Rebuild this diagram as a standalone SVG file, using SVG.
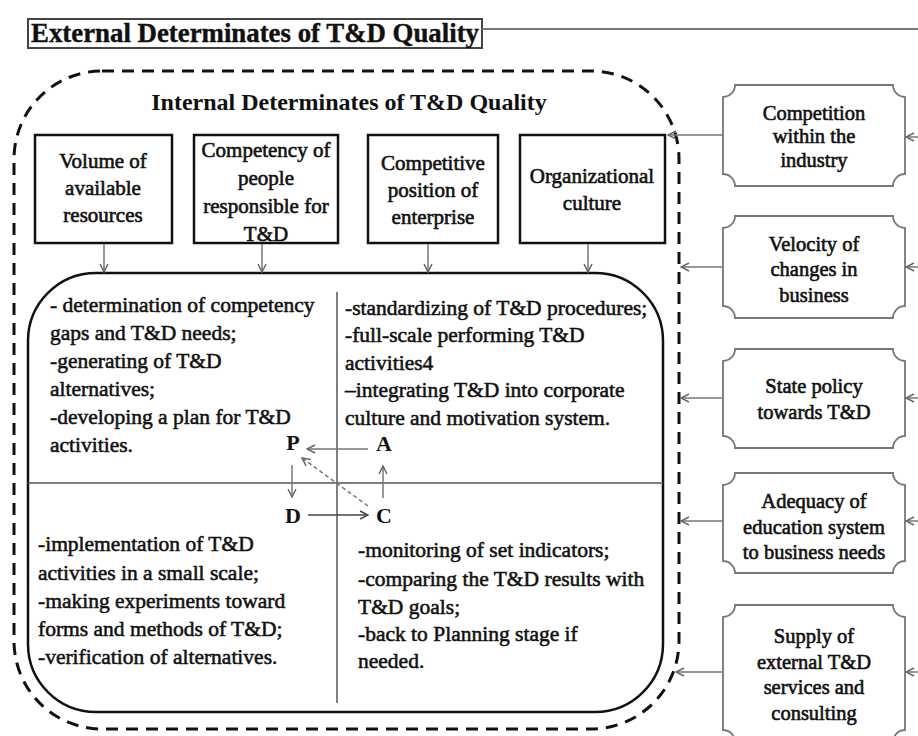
<svg xmlns="http://www.w3.org/2000/svg" width="918" height="736" viewBox="0 0 918 736">
<style>
  text { font-family: "Liberation Serif", "Times New Roman", serif; fill: #111; }
  .t { font-size: 21.5px; stroke: #111; stroke-width: 0.55; }
  .c { text-anchor: middle; }
  .bx { font-size: 21px; stroke: #111; stroke-width: 0.6; text-anchor: middle; }
  .ex { font-size: 20.5px; stroke: #111; stroke-width: 0.6; text-anchor: middle; }
  .h { font-weight: bold; }
  .pdca { font-size: 22px; font-weight: bold; text-anchor: middle; }
  .box { fill: #fff; stroke: #111; stroke-width: 2.5; }
  .plaque { fill: #fff; stroke: #777; stroke-width: 1.8; }
  .conn { fill: none; stroke: #777; stroke-width: 1.5; }
  .div { fill: none; stroke: #555; stroke-width: 1.5; }
</style>
<defs>
  <marker id="ah" viewBox="0 0 10 10" refX="9" refY="5" markerWidth="10" markerHeight="10" markerUnits="userSpaceOnUse" orient="auto">
    <path d="M1,1 L9,5 L1,9" fill="none" stroke="#666" stroke-width="1.5"/>
  </marker>
  <marker id="ahd" viewBox="0 0 10 10" refX="9" refY="5" markerWidth="10" markerHeight="10" markerUnits="userSpaceOnUse" orient="auto">
    <path d="M1,1 L9,5 L1,9" fill="none" stroke="#444" stroke-width="1.5"/>
  </marker>
</defs>
<rect width="918" height="736" fill="#fff"/>

<g id="external-title">
  <rect x="28" y="19" width="454" height="29" fill="#fff" stroke="#444" stroke-width="2"/>
  <text x="31" y="42" class="h" font-size="27" stroke="#111" stroke-width="0.4" textLength="448" lengthAdjust="spacingAndGlyphs">External Determinates of T&amp;D Quality</text>
</g>

<g id="internal-frame">
  <rect x="14" y="71" width="665" height="658" rx="88" ry="88" fill="none" stroke="#111" stroke-width="3" stroke-dasharray="12 8"/>
  <text x="349" y="110" class="h c" font-size="24">Internal Determinates of T&amp;D Quality</text>
</g>

<g id="box-volume">
  <rect class="box" x="35" y="135" width="137" height="108"/>
  <text class="bx"><tspan x="103" y="168">Volume of</tspan><tspan x="103" y="195">available</tspan><tspan x="103" y="222">resources</tspan></text>
</g>
<g id="box-competency">
  <rect class="box" x="194" y="135" width="144" height="108"/>
  <text class="bx"><tspan x="266" y="157">Competency of</tspan><tspan x="266" y="185">people</tspan><tspan x="266" y="213">responsible for</tspan><tspan x="266" y="241">T&amp;D</tspan></text>
</g>
<g id="box-position">
  <rect class="box" x="368" y="135" width="130" height="108"/>
  <text class="bx"><tspan x="433" y="170">Competitive</tspan><tspan x="433" y="197">position of</tspan><tspan x="433" y="224">enterprise</tspan></text>
</g>
<g id="box-culture">
  <rect class="box" x="520" y="135" width="145" height="108"/>
  <text class="bx"><tspan x="592" y="183">Organizational</tspan><tspan x="592" y="210">culture</tspan></text>
</g>

<g id="pdca-cycle">
  <rect x="28" y="273" width="635" height="439" rx="68" ry="68" fill="#fff" stroke="#111" stroke-width="2.5"/>
  <line class="div" x1="337" y1="292" x2="337" y2="703"/>
  <line class="div" x1="28" y1="483" x2="663" y2="483"/>
  <text class="t"><tspan x="50" y="312">-  determination of competency</tspan><tspan x="50" y="340">gaps and T&amp;D needs;</tspan><tspan x="50" y="368">-generating of T&amp;D</tspan><tspan x="50" y="396">alternatives;</tspan><tspan x="50" y="424">-developing a plan for T&amp;D</tspan><tspan x="50" y="452">activities.</tspan></text>
  <text class="t"><tspan x="345" y="315">-standardizing of T&amp;D procedures;</tspan><tspan x="345" y="342">-full-scale performing T&amp;D</tspan><tspan x="345" y="370">activities4</tspan><tspan x="345" y="397">–integrating T&amp;D into corporate</tspan><tspan x="345" y="425">culture and motivation system.</tspan></text>
  <text class="t"><tspan x="38" y="551">-implementation of T&amp;D</tspan><tspan x="38" y="580">activities in a small scale;</tspan><tspan x="38" y="608">-making experiments toward</tspan><tspan x="38" y="636">forms and  methods of  T&amp;D;</tspan><tspan x="38" y="664">-verification of alternatives.</tspan></text>
  <text class="t"><tspan x="358" y="557">-monitoring of set indicators;</tspan><tspan x="358" y="586">-comparing the T&amp;D results with</tspan><tspan x="358" y="614">T&amp;D goals;</tspan><tspan x="358" y="641">-back to Planning stage if</tspan><tspan x="358" y="668">needed.</tspan></text>
</g>

<g id="node-P"><text class="pdca" x="293" y="450">P</text></g>
<g id="node-A"><text class="pdca" x="384" y="451">A</text></g>
<g id="node-D"><text class="pdca" x="293" y="523">D</text></g>
<g id="node-C"><text class="pdca" x="384" y="523">C</text></g>

<g id="ext-competition">
  <path class="plaque" d="M735,85 H893 A12,12 0 0 0 905,97 V174 A12,12 0 0 0 893,186 H735 A12,12 0 0 0 723,174 V97 A12,12 0 0 0 735,85 Z"/>
  <text class="ex"><tspan x="814" y="120">Competition</tspan><tspan x="814" y="143">within the</tspan><tspan x="814" y="167">industry</tspan></text>
</g>
<g id="ext-velocity">
  <path class="plaque" d="M735,216 H893 A12,12 0 0 0 905,228 V306 A12,12 0 0 0 893,318 H735 A12,12 0 0 0 723,306 V228 A12,12 0 0 0 735,216 Z"/>
  <text class="ex"><tspan x="814" y="251">Velocity of</tspan><tspan x="814" y="276">changes in</tspan><tspan x="814" y="302">business</tspan></text>
</g>
<g id="ext-state">
  <path class="plaque" d="M735,349 H893 A12,12 0 0 0 905,361 V436 A12,12 0 0 0 893,448 H735 A12,12 0 0 0 723,436 V361 A12,12 0 0 0 735,349 Z"/>
  <text class="ex"><tspan x="814" y="393">State policy</tspan><tspan x="814" y="419">towards T&amp;D</tspan></text>
</g>
<g id="ext-education">
  <path class="plaque" d="M735,473 H893 A12,12 0 0 0 905,485 V561 A12,12 0 0 0 893,573 H735 A12,12 0 0 0 723,561 V485 A12,12 0 0 0 735,473 Z"/>
  <text class="ex"><tspan x="814" y="508">Adequacy of</tspan><tspan x="814" y="534">education system</tspan><tspan x="814" y="559">to business needs</tspan></text>
</g>
<g id="ext-supply">
  <path class="plaque" d="M735,605 H893 A12,12 0 0 0 905,617 V730 A12,12 0 0 0 893,742 H735 A12,12 0 0 0 723,730 V617 A12,12 0 0 0 735,605 Z"/>
  <text class="ex"><tspan x="814" y="643">Supply of</tspan><tspan x="814" y="669">external T&amp;D</tspan><tspan x="814" y="694">services and</tspan><tspan x="814" y="720">consulting</tspan></text>
</g>

<g id="connectors">
  <line x1="482" y1="29" x2="918" y2="29" stroke="#777" stroke-width="2"/>
  <line class="conn" x1="104" y1="244" x2="104" y2="272" marker-end="url(#ah)"/>
  <line class="conn" x1="262" y1="244" x2="262" y2="272" marker-end="url(#ah)"/>
  <line class="conn" x1="428" y1="244" x2="428" y2="272" marker-end="url(#ah)"/>
  <line class="conn" x1="588" y1="244" x2="588" y2="272" marker-end="url(#ah)"/>
  <line class="conn" x1="723" y1="135" x2="668" y2="135" marker-end="url(#ah)"/>
  <line class="conn" x1="723" y1="267" x2="681" y2="267" marker-end="url(#ah)"/>
  <line class="conn" x1="723" y1="398" x2="681" y2="398" marker-end="url(#ah)"/>
  <line class="conn" x1="723" y1="521" x2="681" y2="521" marker-end="url(#ah)"/>
  <line class="conn" x1="723" y1="672" x2="676" y2="672" marker-end="url(#ah)"/>
  <line class="conn" x1="918" y1="137" x2="906" y2="137" marker-end="url(#ah)"/>
  <line class="conn" x1="918" y1="267" x2="906" y2="267" marker-end="url(#ah)"/>
  <line class="conn" x1="918" y1="398" x2="906" y2="398" marker-end="url(#ah)"/>
  <line class="conn" x1="918" y1="521" x2="906" y2="521" marker-end="url(#ah)"/>
  <line class="conn" x1="918" y1="672" x2="906" y2="672" marker-end="url(#ah)"/>
  <line class="conn" x1="368" y1="449" x2="307" y2="449" marker-end="url(#ah)"/>
  <line class="conn" x1="292" y1="465" x2="292" y2="497" marker-end="url(#ah)"/>
  <line x1="308" y1="515" x2="368" y2="515" fill="none" stroke="#444" stroke-width="1.5" marker-end="url(#ahd)"/>
  <line class="conn" x1="383" y1="498" x2="383" y2="466" marker-end="url(#ah)"/>
  <line class="conn" x1="368" y1="506" x2="302" y2="458" stroke-dasharray="4 3" marker-end="url(#ah)"/>
</g>
</svg>
